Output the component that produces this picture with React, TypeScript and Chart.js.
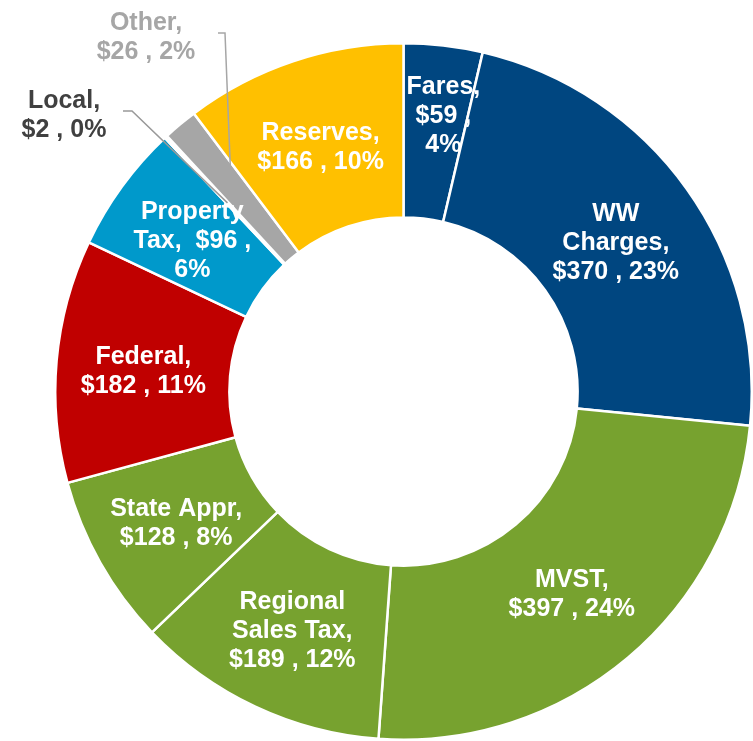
import React, { useEffect, useRef } from "react";
import { Chart, registerables } from "chart.js";

Chart.register(...registerables);

const categories = ["Fares", "WW Charges", "MVST", "Regional Sales Tax", "State Appr", "Federal", "Property Tax", "Local", "Other", "Reserves"];
const values = [59, 370, 397, 189, 128, 182, 96, 2, 26, 166];
const percents = ["4%", "23%", "24%", "12%", "8%", "11%", "6%", "0%", "2%", "10%"];
const labelLines = [
  ["Fares,", "$59 ,", "4%"],
  ["WW", "Charges,", "$370 , 23%"],
  ["MVST,", "$397 , 24%"],
  ["Regional", "Sales Tax,", "$189 , 12%"],
  ["State Appr,", "$128 , 8%"],
  ["Federal,", "$182 , 11%"],
  ["Property", "Tax,  $96 ,", "6%"],
  ["Local,", "$2 , 0%"],
  ["Other,", "$26 , 2%"],
  ["Reserves,", "$166 , 10%"],
];
const colors = ["#004680", "#004680", "#77A22F", "#77A22F", "#77A22F", "#C00000", "#0099CB", "#FFFFFF", "#A6A6A6", "#FFC000"];

const FONT = 'bold 25px "Liberation Sans", Arial, sans-serif';
const LINE_H = 29;
const Y_SHIFT = 3.5;

// label placement options (style/layout, not data)
const insideOffsets: Record<number, [number, number]> = { 0: [10, -19], 5: [0, 0] };
const outsideLabels: Record<number, { x: number; y: number; color: string; lineColor: string; elbow: [number, number][]; angleFrac: number; radius: number }> = {
  7: { x: 64, y: 112, color: "#404040", lineColor: "#999999", elbow: [[123, 111], [132, 111]], angleFrac: 0.5, radius: 258 },
  8: { x: 146, y: 34, color: "#A6A6A6", lineColor: "#A6A6A6", elbow: [[218, 33], [225, 33]], angleFrac: 0.85, radius: 282 },
};

const labelPlugin = {
  id: "segLabels",
  afterDatasetsDraw(chart: any) {
    const ctx = chart.ctx;
    const meta = chart.getDatasetMeta(0);
    ctx.save();
    ctx.font = FONT;
    ctx.textAlign = "center";
    ctx.textBaseline = "middle";
    meta.data.forEach((arc: any, i: number) => {
      const p = arc.getProps(["x", "y", "startAngle", "endAngle", "innerRadius", "outerRadius"], true);
      const lines = labelLines[i];
      const out = outsideLabels[i];
      if (out) {
        const a = p.startAngle + (p.endAngle - p.startAngle) * out.angleFrac;
        const ax = p.x + Math.cos(a) * out.radius;
        const ay = p.y + Math.sin(a) * out.radius;
        ctx.strokeStyle = out.lineColor;
        ctx.lineWidth = 1.5;
        ctx.beginPath();
        ctx.moveTo(out.elbow[0][0], out.elbow[0][1]);
        ctx.lineTo(out.elbow[1][0], out.elbow[1][1]);
        ctx.lineTo(ax, ay);
        ctx.stroke();
        ctx.fillStyle = out.color;
        const y0 = out.y + Y_SHIFT - ((lines.length - 1) * LINE_H) / 2;
        lines.forEach((t, k) => ctx.fillText(t, out.x, y0 + k * LINE_H));
        return;
      }
      const mid = (p.startAngle + p.endAngle) / 2;
      const r = (p.innerRadius + p.outerRadius) / 2;
      const off = insideOffsets[i] || [0, 0];
      const cx = p.x + Math.cos(mid) * r + off[0];
      const cy = p.y + Math.sin(mid) * r + off[1] + Y_SHIFT;
      ctx.fillStyle = "#FFFFFF";
      const y0 = cy - ((lines.length - 1) * LINE_H) / 2;
      lines.forEach((t, k) => ctx.fillText(t, cx, y0 + k * LINE_H));
    });
    ctx.restore();
  },
};

export default function App() {
  const ref = useRef<HTMLCanvasElement | null>(null);
  useEffect(() => {
    if (!ref.current) return;
    const chart = new Chart(ref.current, {
      type: "doughnut",
      data: {
        labels: categories,
        datasets: [
          {
            data: values,
            backgroundColor: colors,
            borderColor: "#FFFFFF",
            borderWidth: 2.5,
          },
        ],
      },
      options: {
        responsive: false,
        animation: false,
        cutout: "50%",
        layout: { padding: { left: 54, right: 0, top: 42, bottom: 0 } },
        plugins: {
          legend: { display: false },
          tooltip: { enabled: false },
        },
      },
      plugins: [labelPlugin],
    });
    return () => chart.destroy();
  }, []);
  return (
    <div style={{ position: "fixed", left: 0, top: 0, width: 753, height: 741, background: "#fff" }}>
      <canvas ref={ref} width={753} height={741} />
    </div>
  );
}
